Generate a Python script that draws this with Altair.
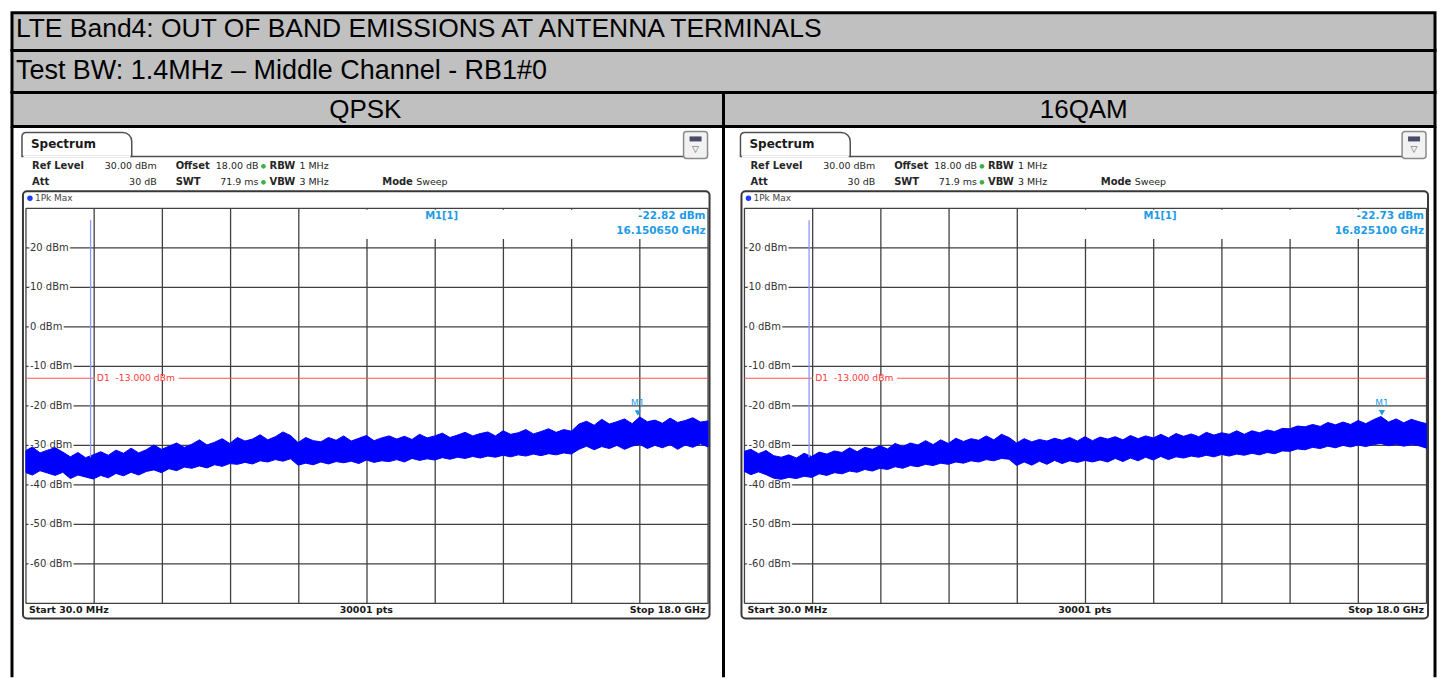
import altair as alt
import pandas as pd

# ---------------- table text ----------------
TITLE = "LTE Band4: OUT OF BAND EMISSIONS AT ANTENNA TERMINALS"
SUBTITLE = "Test BW: 1.4MHz \u2013 Middle Channel - RB1#0"
MODULATIONS = ["QPSK", "16QAM"]

# ---------------- spectrum data ----------------
FREQ_GHZ = [
    0.03, 0.2, 0.4, 0.6, 0.8, 1.0, 1.2, 1.4, 1.6, 1.8,
    2.0, 2.2, 2.4, 2.6, 2.8, 3.0, 3.2, 3.4, 3.6, 3.8,
    4.0, 4.2, 4.4, 4.6, 4.8, 5.0, 5.2, 5.4, 5.6, 5.8,
    6.0, 6.2, 6.4, 6.6, 6.8, 7.0, 7.2, 7.4, 7.6, 7.8,
    8.0, 8.2, 8.4, 8.6, 8.8, 9.0, 9.2, 9.4, 9.6, 9.8,
    10.0, 10.2, 10.4, 10.6, 10.8, 11.0, 11.2, 11.4, 11.6, 11.8,
    12.0, 12.2, 12.4, 12.6, 12.8, 13.0, 13.2, 13.4, 13.6, 13.8,
    14.0, 14.2, 14.4, 14.6, 14.8, 15.0, 15.2, 15.4, 15.6, 15.8,
    16.0, 16.2, 16.4, 16.6, 16.8, 17.0, 17.2, 17.4, 17.6, 17.8,
    18.0,
]
QPSK_HI = [
    -31.3, -30.4, -31.9, -31.2, -30.6, -31.7, -32.9, -31.8, -33.1, -32.4,
    -31.6, -32.5, -31.2, -32.0, -30.7, -31.9, -31.1, -29.9, -31.0, -30.2,
    -29.4, -30.5, -29.7, -28.6, -29.9, -29.2, -28.3, -29.5, -28.0, -28.9,
    -28.4, -27.3, -28.6, -27.8, -26.6, -27.5, -29.3, -28.0, -28.8, -29.1,
    -28.0, -28.7, -27.6, -28.9, -28.2, -27.5, -28.8, -28.1, -27.6, -28.4,
    -27.7, -28.5, -27.2, -28.1, -27.6, -26.9, -28.0, -27.4, -26.7, -27.6,
    -27.0, -26.6, -27.6, -26.3, -27.2, -26.8, -26.0, -27.1, -26.5, -25.8,
    -26.7, -26.0, -26.4, -24.6, -23.9, -24.9, -23.4, -24.6, -24.0, -23.3,
    -24.5, -22.8, -24.0, -23.6, -24.4, -23.1, -24.2, -23.7, -23.0, -24.1,
    -23.8,
]
QPSK_LO = [
    -36.9, -37.5, -36.4, -37.0, -37.6, -36.8, -38.4, -37.5, -38.0, -38.5,
    -37.6, -38.2, -37.1, -37.7, -36.8, -37.5, -36.6, -36.2, -36.9, -35.9,
    -36.4, -35.5, -35.8, -35.2, -35.7, -34.9, -35.3, -34.6, -34.8, -34.3,
    -34.7, -33.9, -34.2, -33.6, -34.0, -33.4, -35.0, -34.5, -34.9, -34.2,
    -34.7, -34.1, -34.4, -34.0, -34.6, -33.7, -34.3, -33.9, -34.1, -33.6,
    -34.2, -33.3, -33.8, -33.4, -33.7, -33.1, -33.5, -33.0, -33.3, -32.8,
    -33.2, -32.7, -33.0, -32.5, -32.9, -32.4, -32.7, -32.2, -32.6, -32.1,
    -32.4, -31.9, -32.2, -31.0, -30.2, -31.1, -30.3, -30.8, -30.0, -31.0,
    -30.2, -29.7, -30.8, -30.0, -30.6, -29.8, -31.0, -29.9, -30.5, -29.6,
    -30.4,
]
QAM_HI = [
    -31.5, -31.0, -32.1, -31.3, -32.6, -33.0, -32.4, -33.2, -32.0, -32.8,
    -31.7, -32.2, -31.4, -31.8, -30.6, -31.6, -30.5, -31.0, -30.1, -30.9,
    -29.5, -30.3, -29.4, -29.9, -28.8, -29.8, -28.6, -29.5, -28.2, -29.0,
    -28.3, -28.7, -27.6, -28.6, -27.2, -28.0, -29.4, -28.3, -29.1, -28.5,
    -28.9, -28.2, -28.7, -28.0, -28.9, -27.8, -28.8, -27.9, -28.4, -27.8,
    -28.6, -27.5, -28.3, -27.6, -28.1, -27.2, -28.1, -27.0, -27.7, -27.1,
    -27.8, -26.7, -27.4, -26.8, -27.2, -26.3, -27.2, -26.3, -26.8, -26.1,
    -26.5, -25.7, -25.8, -25.1, -25.3, -24.7, -25.2, -24.2, -24.8, -24.1,
    -24.7, -23.7, -24.5, -23.5, -22.7, -24.1, -23.3, -24.3, -23.4, -24.0,
    -24.5,
]
QAM_LO = [
    -36.6, -37.4, -36.7, -37.4, -38.3, -38.6, -38.1, -38.4, -37.8, -38.1,
    -37.2, -37.6, -36.9, -37.2, -36.5, -36.8, -36.1, -36.5, -35.8, -36.1,
    -35.4, -35.8, -35.1, -35.4, -34.8, -35.1, -34.5, -34.8, -34.2, -34.5,
    -33.9, -34.2, -33.6, -33.9, -33.3, -33.5, -35.1, -34.2, -35.0, -34.0,
    -34.8, -33.8, -34.6, -33.9, -34.3, -33.8, -34.2, -33.7, -34.2, -33.3,
    -34.1, -33.2, -33.9, -33.0, -33.7, -32.8, -33.6, -32.9, -33.2, -32.7,
    -33.0, -32.5, -32.9, -32.3, -32.7, -32.2, -32.5, -32.0, -32.4, -31.8,
    -32.1, -31.4, -31.5, -30.9, -31.1, -30.5, -30.8, -30.2, -30.6, -30.0,
    -30.4, -29.9, -30.3, -29.8, -29.5, -30.1, -29.7, -30.2, -29.8, -30.1,
    -30.7,
]

GRID_FREQ = [0.03, 1.827, 3.624, 5.421, 7.218, 9.015, 10.812, 12.609, 14.406, 16.203, 18.0]
GRID_LEVEL = [30, 20, 10, 0, -10, -20, -30, -40, -50, -60, -70]
LABEL_LEVEL = [20, 10, 0, -10, -20, -30, -40, -50, -60]
LABEL_TEXT = [f"{v} dBm" for v in LABEL_LEVEL]
LIMIT_DBM = -13.0
CARRIER_GHZ = 1.7325
CARRIER_FOOT_DBM = -33.0
CARRIER_TOP_DBM = 27.0
MARKER_GHZ = [16.150650, 16.825100]
MARKER_DBM = [-22.82, -22.73]

SCREEN = "DejaVu Sans"
HEAD = "Liberation Sans"
INK = "#262626"
GRIDC = "#404040"
MBLUE = "#1e9be6"
TRACE = "#0000ff"

ONE = pd.DataFrame({"k": [0]})

CELL_W = 713
ROW_W = 2 * CELL_W
BODY_H = 552
ORIGIN_Y = 124  # page y of the body row in reference pixels


def panel(hi, lo, mf, mdb, dx):
    def px(x):
        return x + dx

    def py(y):
        return y - ORIGIN_Y

    xs = alt.Scale(domain=[FREQ_GHZ[0], FREQ_GHZ[-1]], range=[px(24), px(707.5)], nice=False, zero=False)
    ys = alt.Scale(domain=[GRID_LEVEL[-1], GRID_LEVEL[0]], range=[py(602), py(206)], nice=False, zero=False)

    def X(f):
        return alt.X(f, type="quantitative", scale=xs, axis=None)

    def Y(f):
        return alt.Y(f, type="quantitative", scale=ys, axis=None)

    def at(x0, x1=None, y0=None, y1=None):
        enc = dict(x=alt.value(px(x0)), y=alt.value(py(y0)))
        if x1 is not None:
            enc["x2"] = alt.value(px(x1))
        if y1 is not None:
            enc["y2"] = alt.value(py(y1))
        return enc

    def T(s, x, y, size=9.0, bold=False, color=INK, align="left"):
        return alt.Chart(ONE).mark_text(
            text=s, align=align, baseline="middle", font=SCREEN, fontSize=size,
            fontWeight="bold" if bold else "normal", color=color,
        ).encode(x=alt.value(px(x)), y=alt.value(py(y)))

    L = []
    # frame of the analyzer screen
    L.append(alt.Chart(ONE).mark_rect(fill="white", stroke="#383838", strokeWidth=2, cornerRadius=4)
             .encode(**at(21, 709, 189, 617)))
    # tab
    L.append(alt.Chart(ONE).mark_rect(fill="white", stroke="#505050", strokeWidth=1.5,
                                      cornerRadiusTopLeft=4, cornerRadiusTopRight=9)
             .encode(**at(20, 130, 130, 154)))
    L.append(alt.Chart(ONE).mark_rule(color="white", strokeWidth=2).encode(**at(21.5, 128.5, 154)))
    L.append(alt.Chart(ONE).mark_rule(color="#505050", strokeWidth=1.5).encode(**at(130, 683, 154)))
    # icon
    L.append(alt.Chart(ONE).mark_rect(fill="#f2f2f2", stroke="#8a8a8a", strokeWidth=1.5, cornerRadius=3)
             .encode(**at(683, 707, 129, 156)))
    L.append(alt.Chart(ONE).mark_rect(fill="#4a4a6a").encode(**at(689, 701, 134, 139)))
    L.append(T("\u25bd", 695, 147, size=9, color="#555555", align="center"))
    L.append(T("Spectrum", 29, 142, size=12, bold=True, color="#1a1a1a"))
    # info lines
    L.append(T("Ref Level", 30, 164, size=10, bold=True))
    L.append(T("30.00 dBm", 155, 164, size=9.5, align="right"))
    L.append(T("Offset", 174, 164, size=10, bold=True))
    L.append(T("18.00 dB", 257, 164, size=9.5, align="right"))
    L.append(T("RBW", 268, 164, size=10, bold=True))
    L.append(T("1 MHz", 298, 164, size=9.5))
    L.append(T("Att", 30, 180, size=10, bold=True))
    L.append(T("30 dB", 155, 180, size=9.5, align="right"))
    L.append(T("SWT", 174, 180, size=10, bold=True))
    L.append(T("71.9 ms", 257, 180, size=9.5, align="right"))
    L.append(T("VBW", 268, 180, size=10, bold=True))
    L.append(T("3 MHz", 298, 180, size=9.5))
    L.append(T("Mode", 381, 180, size=10, bold=True))
    L.append(T("Sweep", 415, 180, size=9.5))
    for yy in (164, 180):
        L.append(alt.Chart(ONE).mark_point(shape="circle", filled=True, size=22, color="#3cb043", opacity=1)
                 .encode(**at(262, None, yy)))
    # trace info row
    L.append(alt.Chart(ONE).mark_point(shape="circle", filled=True, size=30, color="#1c3cff", opacity=1)
             .encode(**at(28, None, 196)))
    L.append(T("1Pk Max", 33, 196, size=9, color="#444444"))

    # grid
    vdf = pd.DataFrame({"f": GRID_FREQ, "top": GRID_LEVEL[0], "bot": GRID_LEVEL[-1]})
    L.append(alt.Chart(vdf).mark_rule(color=GRIDC, strokeWidth=1.3).encode(x=X("f"), y=Y("top"), y2="bot"))
    hdf = pd.DataFrame({"lv": GRID_LEVEL, "f0": FREQ_GHZ[0], "f1": FREQ_GHZ[-1]})
    L.append(alt.Chart(hdf).mark_rule(color=GRIDC, strokeWidth=1.3).encode(y=Y("lv"), x=X("f0"), x2="f1"))
    # marker readout area blanks the grid
    mask = pd.DataFrame({"f0": [7.32], "f1": [17.96], "t": [29.6], "b": [22.2]})
    L.append(alt.Chart(mask).mark_rect(fill="white").encode(x=X("f0"), x2="f1", y=Y("t"), y2="b"))
    # level labels (with halo)
    ldf = pd.DataFrame({"lv": LABEL_LEVEL, "txt": LABEL_TEXT})
    L.append(alt.Chart(ldf).mark_text(align="left", baseline="middle", font=SCREEN, fontSize=10,
                                      color="white", stroke="white", strokeWidth=4)
             .encode(y=Y("lv"), text="txt:N", x=alt.value(px(28))))
    L.append(alt.Chart(ldf).mark_text(align="left", baseline="middle", font=SCREEN, fontSize=10, color="#333333")
             .encode(y=Y("lv"), text="txt:N", x=alt.value(px(28))))
    # limit line with its label
    lim = pd.DataFrame({"lv": [LIMIT_DBM], "f0": [FREQ_GHZ[0]], "f1": [FREQ_GHZ[-1]],
                        "txt": [f"D1\u00a0\u00a0{LIMIT_DBM:.3f} dBm"]})
    L.append(alt.Chart(lim).mark_rule(color="#ff5050", strokeWidth=1.1).encode(y=Y("lv"), x=X("f0"), x2="f1"))
    L.append(alt.Chart(lim).mark_rule(color="white", strokeWidth=4)
             .encode(y=Y("lv"), x=alt.value(px(93)), x2=alt.value(px(177))))
    L.append(alt.Chart(lim).mark_text(align="left", baseline="middle", font=SCREEN, fontSize=9.2, color="#ff3b3b")
             .encode(y=Y("lv"), text="txt:N", x=alt.value(px(95))))
    # trace
    tdf = pd.DataFrame({"f": FREQ_GHZ, "hi": hi, "lo": lo})
    L.append(alt.Chart(tdf).mark_area(color=TRACE, stroke=TRACE, strokeWidth=1, opacity=1)
             .encode(x=X("f"), y=Y("hi"), y2="lo"))
    # carrier (in-band signal)
    cdf = pd.DataFrame({"f": [CARRIER_GHZ], "a": [CARRIER_FOOT_DBM], "b": [CARRIER_TOP_DBM]})
    L.append(alt.Chart(cdf).mark_rule(color="#8c98ff", strokeWidth=1.3).encode(x=X("f"), y=Y("a"), y2="b"))
    # marker
    mdf = pd.DataFrame({"f": [mf], "db": [mdb]})
    L.append(alt.Chart(mdf).mark_point(shape="triangle-down", filled=True, size=40, color=MBLUE,
                                       opacity=1, yOffset=-4).encode(x=X("f"), y=Y("db")))
    L.append(alt.Chart(mdf).mark_text(text="M1", align="center", baseline="middle", font=SCREEN,
                                      fontSize=9, color=MBLUE, dy=-14).encode(x=X("f"), y=Y("db")))
    L.append(T("M1[1]", 424, 214, size=10, bold=True, color=MBLUE))
    L.append(T(f"{mdb:.2f} dBm", 705, 214, size=10.5, bold=True, color=MBLUE, align="right"))
    L.append(T(f"{mf:.6f} GHz", 705, 229, size=10.5, bold=True, color=MBLUE, align="right"))
    # footer
    L.append(T("Start 30.0 MHz", 27, 609, size=9.5, bold=True, color="#1a1a1a"))
    L.append(T("30001 pts", 365, 609, size=9.5, bold=True, color="#1a1a1a", align="center"))
    L.append(T("Stop 18.0 GHz", 705, 609, size=9.5, bold=True, color="#1a1a1a", align="right"))
    return alt.layer(*L)


# ---------------- table rows ----------------
def text_row(text, h, x, y, size):
    return alt.Chart(ONE).mark_text(
        text=text, align="left", baseline="middle", font=HEAD, fontSize=size, color="black"
    ).encode(x=alt.value(x), y=alt.value(y)).properties(
        width=ROW_W, height=h,
        view=alt.ViewBackground(fill="#c0c0c0", stroke="black", strokeWidth=3),
    )


title = text_row(TITLE, 38, 4, 16, 26.5)
subtitle = text_row(SUBTITLE, 42, 4, 20, 27)

mod_layers = [
    alt.Chart(ONE).mark_text(text=MODULATIONS[0], align="center", baseline="middle", font=HEAD,
                             fontSize=26, color="black").encode(x=alt.value(354), y=alt.value(18)),
    alt.Chart(ONE).mark_text(text=MODULATIONS[1], align="center", baseline="middle", font=HEAD,
                             fontSize=26, color="black").encode(x=alt.value(CELL_W + 361), y=alt.value(18)),
    alt.Chart(ONE).mark_rule(color="black", strokeWidth=3)
    .encode(x=alt.value(CELL_W), y=alt.value(0), y2=alt.value(34)),
]
mods = alt.layer(*mod_layers).properties(
    width=ROW_W, height=34,
    view=alt.ViewBackground(fill="#c0c0c0", stroke="black", strokeWidth=3),
)

borders = [
    alt.Chart(ONE).mark_rule(color="black", strokeWidth=3)
    .encode(x=alt.value(xx), y=alt.value(0), y2=alt.value(BODY_H))
    for xx in (0, CELL_W, ROW_W)
]
body = alt.layer(
    panel(QPSK_HI, QPSK_LO, MARKER_GHZ[0], MARKER_DBM[0], -10),
    panel(QAM_HI, QAM_LO, MARKER_GHZ[1], MARKER_DBM[1], CELL_W - 3),
    *borders,
).resolve_scale(x="independent", y="independent").properties(width=ROW_W, height=BODY_H)

chart = alt.vconcat(title, subtitle, mods, body, spacing=0, bounds="flush").properties(
    padding=2
).configure(background="white").configure_view(strokeWidth=0)

chart.save("out.html", embed_options={"renderer": "svg", "actions": False})
